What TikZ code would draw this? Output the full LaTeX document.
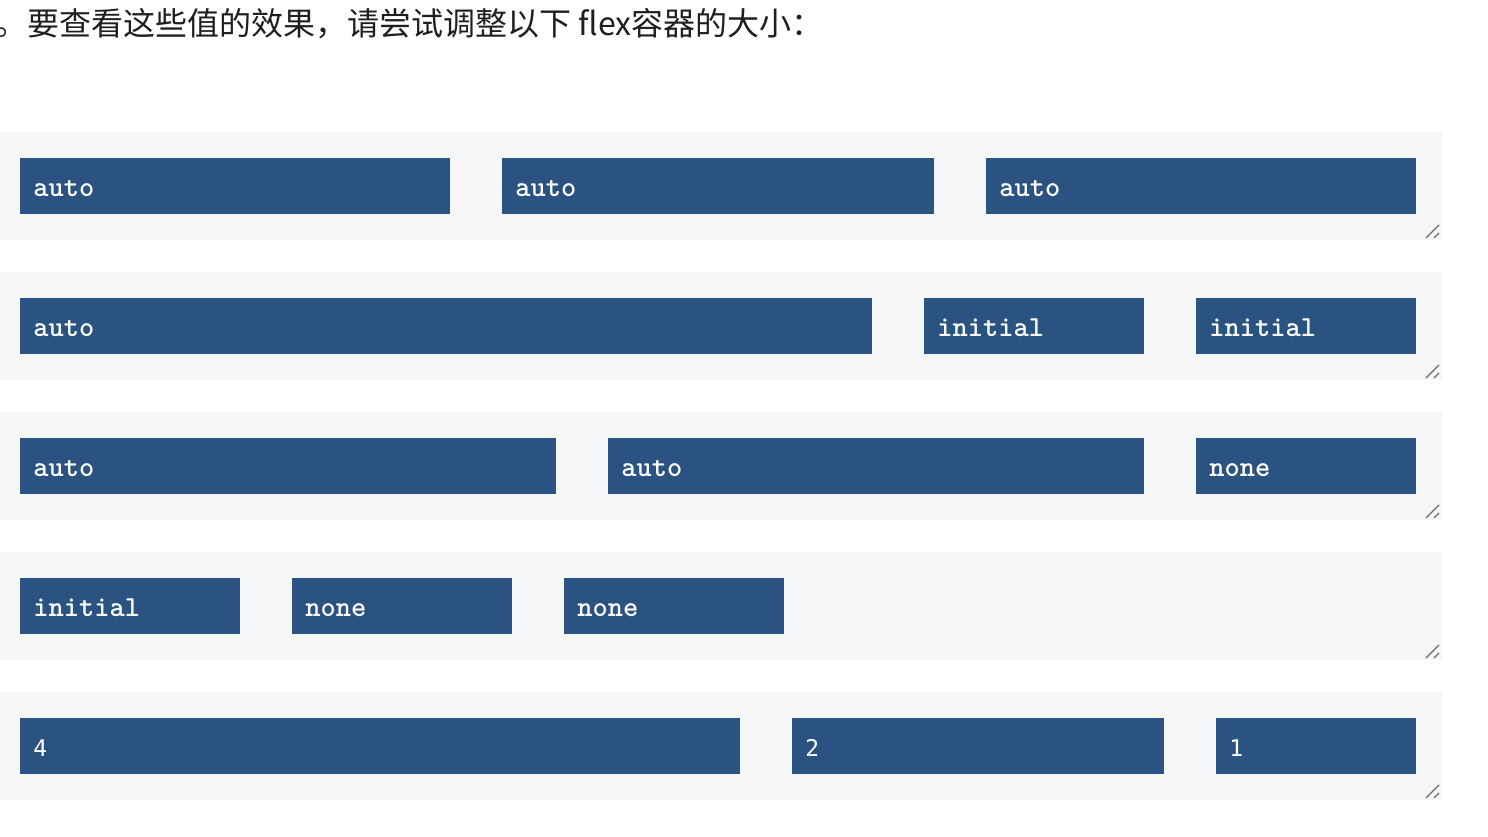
\documentclass[tikz,border=0pt]{standalone}
\usepackage{xcolor}
\usepackage{fontspec}
\newfontfamily\cjk{Noto Sans CJK SC}
\newfontfamily\numfont{DejaVu Sans Mono}

\definecolor{bandgray}{HTML}{F5F6F8}
\definecolor{boxblue}{HTML}{2A5381}
\definecolor{handlegray}{HTML}{6B6B6B}

\tikzset{
  flexband/.style={fill=bandgray, draw=none},
  flexbox/.style={fill=boxblue, text=white, anchor=north west, inner xsep=6.5pt, inner ysep=0pt,
    minimum height=28pt, text height=10pt, text depth=0pt, text width=#1,
    font=\ttfamily\bfseries\fontsize{14.5}{16}\selectfont},
  numbox/.style={flexbox=#1, font=\numfont\fontsize{11.5}{14}\selectfont},
  handle/.style={handlegray, line width=0.6pt}
}

\begin{document}
\begin{tikzpicture}[x=0.5pt, y=-0.5pt]
				\useasboundingbox (0,0) rectangle (1488,836);
				\clip (0,0) rectangle (1488,836);

				\node[anchor=base west, inner sep=0pt, font=\cjk\fontsize{16}{18}\selectfont, text=black!88] (title) at (-5,35) {。要查看这些值的效果，请尝试调整以下 flex容器的大小：};

				\foreach \y in {132,272,412,552,692} {
					\fill[flexband] (0,\y) rectangle (1442,\y+108);
					\draw[handle] (1426,\y+106) -- (1439,\y+93);
					\draw[handle] (1434,\y+106) -- (1439,\y+101);
				}

				\node[flexbox=202pt] (a1) at (20,158) {auto};
				\node[flexbox=203pt] (a2) at (502,158) {auto};
				\node[flexbox=202pt] (a3) at (986,158) {auto};

				\node[flexbox=413pt] (b1) at (20,298) {auto};
				\node[flexbox=97pt] (b2) at (924,298) {initial};
				\node[flexbox=97pt] (b3) at (1196,298) {initial};

				\node[flexbox=255pt] (c1) at (20,438) {auto};
				\node[flexbox=255pt] (c2) at (608,438) {auto};
				\node[flexbox=97pt] (c3) at (1196,438) {none};

				\node[flexbox=97pt] (d1) at (20,578) {initial};
				\node[flexbox=97pt] (d2) at (292,578) {none};
				\node[flexbox=97pt] (d3) at (564,578) {none};

				\node[numbox=347pt] (e1) at (20,718) {4};
				\node[numbox=173pt] (e2) at (792,718) {2};
				\node[numbox=87pt] (e3) at (1216,718) {1};
			\end{tikzpicture}
\end{document}
